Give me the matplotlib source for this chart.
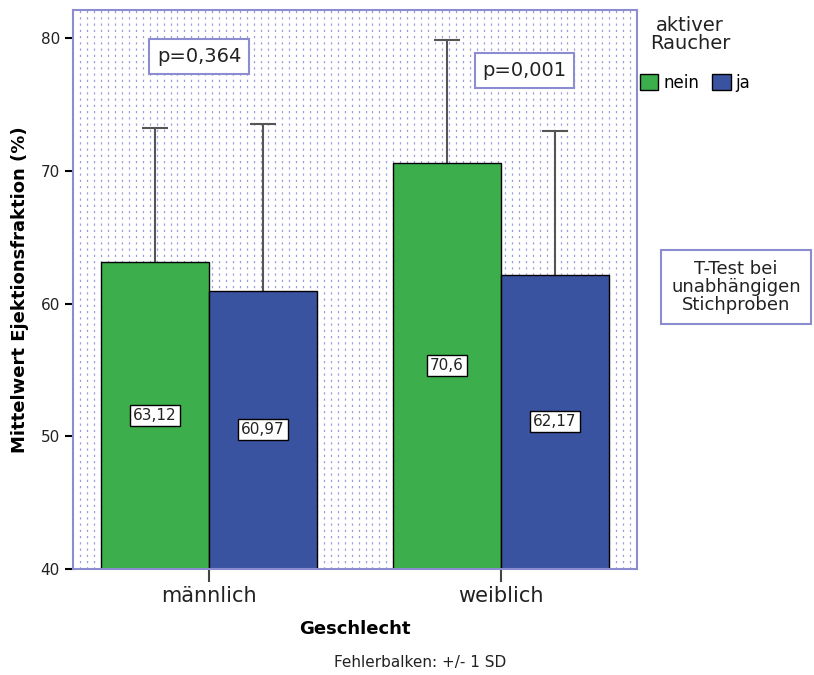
import numpy as np
import matplotlib
matplotlib.use('Agg')
import matplotlib.pyplot as plt
from matplotlib.patches import Patch

# data
categories = ['männlich', 'weiblich']
groups = ['nein', 'ja']
means_nein = [63.12, 70.6]
means_ja = [60.97, 62.17]
sd_nein = [10.1, 9.25]
sd_ja = [12.55, 10.8]
labels_nein = ['63,12', '70,6']
labels_ja = ['60,97', '62,17']
p_values = ['p=0,364', 'p=0,001']
yticks = [40, 50, 60, 70, 80]

green = '#3cae4b'
blue = '#3a53a0'
frame = '#8c8cd0'

fig = plt.figure(figsize=(8.14, 6.75), dpi=100)
ax = fig.add_axes([0.0897, 0.157, 0.693, 0.828])

# dotted background (vertical dotted columns)
cols = np.linspace(0, 1, 82)[1:-1]
ax.vlines(cols, 0, 1, transform=ax.transAxes, colors='#9c9cde', linewidth=0.9,
          linestyles=(0, (1.8, 3.2)), zorder=0)

x = np.arange(len(categories))
w = 0.37
ax.bar(x - w / 2, np.array(means_nein) - 40, w, bottom=40, color=green,
       edgecolor='black', linewidth=1, zorder=2)
ax.bar(x + w / 2, np.array(means_ja) - 40, w, bottom=40, color=blue,
       edgecolor='black', linewidth=1, zorder=2)

# upper error bars only
cap = 0.045
for xs, m, s in [(x - w / 2, means_nein, sd_nein), (x + w / 2, means_ja, sd_ja)]:
    top = np.array(m) + np.array(s)
    ax.vlines(xs, m, top, colors='#555555', linewidth=1.5, zorder=1)
    ax.hlines(top, xs - cap, xs + cap, colors='#555555', linewidth=1.5, zorder=1)

box = dict(boxstyle='square,pad=0.2', facecolor='white', edgecolor='black', linewidth=1)
for i in range(len(categories)):
    ax.text(x[i] - w / 2, (means_nein[i] + 40) / 2, labels_nein[i], ha='center',
            va='center', fontsize=11, color='#222222', bbox=box, zorder=3)
    ax.text(x[i] + w / 2, (means_ja[i] + 40) / 2, labels_ja[i], ha='center',
            va='center', fontsize=11, color='#222222', bbox=box, zorder=3)

pbox = dict(boxstyle='square,pad=0.4', facecolor='white', edgecolor=frame, linewidth=1.5)
ax.text(-0.034, 78.6, p_values[0], ha='center', va='center', fontsize=14,
        color='#222222', bbox=pbox, zorder=3)
ax.text(1.08, 77.55, p_values[1], ha='center', va='center', fontsize=14,
        color='#222222', bbox=pbox, zorder=3)

ax.set_xlim(-0.466, 1.466)
ax.set_ylim(40, 82.1)
ax.set_yticks(yticks)
ax.set_xticks(x)
ax.set_xticklabels(categories, fontsize=15, color='#222222')
ax.tick_params(axis='y', labelsize=11, length=6, width=1.5, color='black', labelcolor='#222222')
ax.tick_params(axis='x', length=9, width=1.5, color='#444444', pad=3)
for s in ax.spines.values():
    s.set_color(frame)
    s.set_linewidth(1.5)
    s.set_zorder(4)

ax.set_ylabel('Mittelwert Ejektionsfraktion (%)', fontsize=13, fontweight='bold', labelpad=8)
ax.set_xlabel('Geschlecht', fontsize=13, fontweight='bold', labelpad=10)

fig.text(0.516, 0.008, 'Fehlerbalken: +/- 1 SD', ha='center', va='bottom', fontsize=11,
         color='#222222')

# legend
fig.text(0.848, 0.977, 'aktiver\nRaucher', ha='center', va='top', fontsize=14,
         linespacing=0.95, color='#222222')
handles = [Patch(facecolor=green, edgecolor='black'), Patch(facecolor=blue, edgecolor='black')]
fig.legend(handles, groups, loc='center left', bbox_to_anchor=(0.786, 0.877), ncol=2,
           frameon=False, fontsize=12, handlelength=1.1, handleheight=1.1,
           handletextpad=0.3, columnspacing=0.8, borderpad=0.0, borderaxespad=0.0)

fig.text(0.904, 0.575, 'T-Test bei\nunabhängigen\nStichproben', ha='center', va='center',
         fontsize=13, linespacing=1.0, color='#222222',
         bbox=dict(boxstyle='square,pad=0.55', facecolor='white', edgecolor=frame, linewidth=1.5))

plt.savefig('out.png', dpi=100)
